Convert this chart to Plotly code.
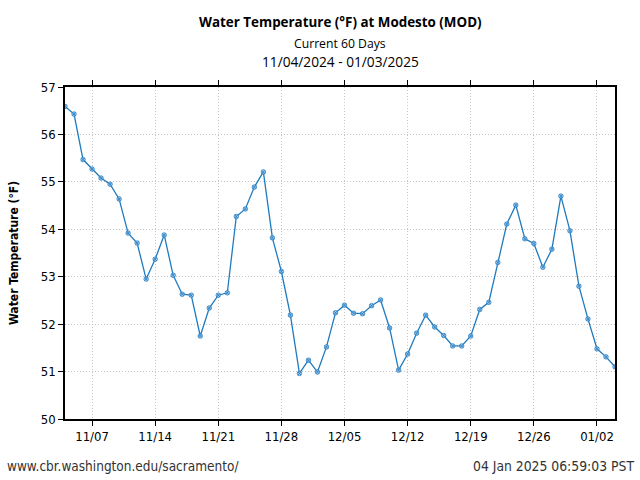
import plotly.graph_objects as go
import pandas as pd

start_date = "2024-11-04"
temps = [56.59, 56.43, 55.47, 55.27, 55.08, 54.95, 54.64, 53.92, 53.71, 52.95,
         53.37, 53.88, 53.03, 52.63, 52.61, 51.75, 52.34, 52.61, 52.66, 54.27,
         54.43, 54.89, 55.21, 53.82, 53.11, 52.19, 50.96, 51.24, 50.99, 51.52,
         52.24, 52.40, 52.23, 52.22, 52.39, 52.51, 51.92, 51.03, 51.37, 51.81,
         52.19, 51.94, 51.76, 51.54, 51.54, 51.75, 52.31, 52.46, 53.30, 54.11,
         54.51, 53.80, 53.70, 53.20, 53.58, 54.70, 53.97, 52.80, 52.11, 51.48,
         51.31, 51.10]
dates = pd.date_range(start_date, periods=len(temps), freq="D")
tick_vals = ["2024-11-07", "2024-11-14", "2024-11-21", "2024-11-28", "2024-12-05",
             "2024-12-12", "2024-12-19", "2024-12-26", "2025-01-02"]
tick_text = ["11/07", "11/14", "11/21", "11/28", "12/05", "12/12", "12/19", "12/26", "01/02"]
y_ticks = [50, 51, 52, 53, 54, 55, 56, 57]

title = "Water Temperature (°F) at Modesto (MOD)"
subtitle1 = "Current 60 Days"
subtitle2 = "11/04/2024 - 01/03/2025"
y_title = "Water Temperature (°F)"
footer_left = "www.cbr.washington.edu/sacramento/"
footer_right = "04 Jan 2025 06:59:03 PST"

fig = go.Figure()
fig.add_trace(go.Scatter(
    x=dates, y=temps, mode="lines+markers",
    line=dict(color="#1f7bbf", width=1.3),
    marker=dict(symbol="circle-x", size=4.5, color="rgba(140,190,235,0.8)",
                line=dict(color="#2a7fc0", width=0.8)),
    showlegend=False,
))

font_cond = "DejaVu Sans Condensed, DejaVu Sans, sans-serif"
font_title = "Open Sans, Noto Sans, sans-serif"
grid_col = "#c4c4c4"

fig.update_layout(
    width=640, height=480,
    margin=dict(l=65, r=25, t=87, b=61),
    paper_bgcolor="white", plot_bgcolor="white",
    font=dict(family=font_cond, size=12, color="black"),
    xaxis=dict(
        type="date", range=[dates[0], dates[-1]],
        tickvals=tick_vals, ticktext=tick_text,
        ticks="outside", ticklen=5, tickcolor="black",
        showline=True, linecolor="black", linewidth=1.5, mirror="ticks",
        showgrid=True, gridcolor=grid_col, griddash="1px,2px", gridwidth=1,
        tickfont=dict(family=font_cond, size=13),
        zeroline=False,
    ),
    yaxis=dict(
        range=[50, 57], tickvals=y_ticks,
        ticks="outside", ticklen=5, tickcolor="black",
        showline=True, linecolor="black", linewidth=1.5, mirror=True,
        showgrid=True, gridcolor=grid_col, griddash="1px,2px", gridwidth=1,
        tickfont=dict(family=font_cond, size=13),
        title=dict(text="<b>" + y_title + "</b>", font=dict(family=font_cond, size=12), standoff=20),
        zeroline=False,
    ),
)

fig.add_annotation(text="<b>" + title + "</b>", xref="paper", yref="paper",
                   x=0.5, y=1, yshift=65, xanchor="center", yanchor="middle",
                   showarrow=False, font=dict(family=font_title, size=13.4))
fig.add_annotation(text=subtitle1, xref="paper", yref="paper",
                   x=0.5, y=1, yshift=44, xanchor="center", yanchor="middle",
                   showarrow=False, font=dict(family=font_title, size=12.2))
fig.add_annotation(text=subtitle2, xref="paper", yref="paper",
                   x=0.5, y=1, yshift=26, xanchor="center", yanchor="middle",
                   showarrow=False, font=dict(family=font_title, size=13.7))
fig.add_annotation(text=footer_left, xref="paper", yref="paper",
                   x=0, y=0, xshift=-60, yshift=-47, xanchor="left", yanchor="middle",
                   showarrow=False, font=dict(family=font_cond, size=13.5, color="#333"))
fig.add_annotation(text=footer_right, xref="paper", yref="paper",
                   x=1, y=0, xshift=21, yshift=-47, xanchor="right", yanchor="middle",
                   showarrow=False, font=dict(family=font_cond, size=13.8, color="#333"))

fig.write_html("out.html", config={"displayModeBar": False},
               post_script="document.body.style.margin='0px';document.body.style.overflow='hidden';")
